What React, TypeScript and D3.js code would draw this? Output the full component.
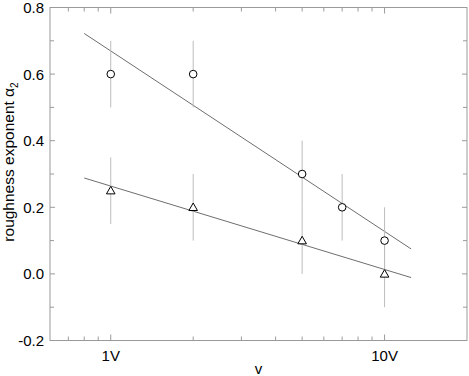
import React from "react";
import * as d3 from "d3";

// values
const circleVolts = [1, 2, 5, 7, 10];
const circleVals = [0.6, 0.6, 0.3, 0.2, 0.1];
const circleErr = [0.1, 0.1, 0.1, 0.1, 0.1];
const triVolts = [1, 2, 5, 10];
const triVals = [0.25, 0.2, 0.1, 0.0];
const triErr = [0.1, 0.1, 0.1, 0.1];
const fitVolts = [0.8, 12.5];
const circleFit = [0.722, 0.075];
const triFit = [0.288, -0.011];
const xMajor = [1, 10];
const xMinor = [0.7, 0.8, 0.9, 2, 3, 4, 5, 6, 7, 8, 9];
const yMajor = [-0.2, 0, 0.2, 0.4, 0.6, 0.8];
const yMinor = [-0.1, 0.1, 0.3, 0.5, 0.7];

const width = 469;
const height = 376;
const margin = { top: 7.5, right: 2, bottom: 35.5, left: 50 };
const font = "'Liberation Sans', Arial, sans-serif";
const axisColor = "#9a9a9a";

const App = () => {
  const x = d3
    .scaleLog()
    .domain([0.6, 20])
    .range([margin.left, width - margin.right]);
  const y = d3
    .scaleLinear()
    .domain([-0.2, 0.8])
    .range([height - margin.bottom, margin.top]);
  const left = x.range()[0];
  const right = x.range()[1];
  const top = y.range()[1];
  const bottom = y.range()[0];

  const line = d3
    .line<number>()
    .x((d, i) => x(fitVolts[i]))
    .y((d) => y(d));

  const tri = (cx: number, cy: number) => {
    const s = 4.3;
    return `M${cx},${cy - s}L${cx + s},${cy + s * 0.75}L${cx - s},${cy + s * 0.75}Z`;
  };

  // plain hyphen for negatives, like the original
  const fmt = (v: number) => d3.format(".1f")(v).replace("\u2212", "-");

  const errBars = (vs: number[], vals: number[], errs: number[], key: string) =>
    vs.map((v, i) => (
      <line
        key={key + i}
        x1={x(v)}
        x2={x(v)}
        y1={y(vals[i] + errs[i])}
        y2={y(vals[i] - errs[i])}
        stroke="#bdbdbd"
        strokeWidth={1}
      />
    ));

  return (
    <svg
      width={width}
      height={height}
      style={{ position: "absolute", left: 0, top: 0, background: "#fff" }}
    >
      {/* frame */}
      <rect
        x={left}
        y={top}
        width={right - left}
        height={bottom - top}
        fill="none"
        stroke={axisColor}
        strokeWidth={1}
      />
      {/* ticks, inward on all four sides */}
      {xMajor.concat(xMinor).map((v, i) => {
        const len = xMajor.includes(v) ? 6 : 4;
        return (
          <g key={"xt" + i} stroke={axisColor}>
            <line x1={x(v)} x2={x(v)} y1={bottom} y2={bottom - len} />
            <line x1={x(v)} x2={x(v)} y1={top} y2={top + len} />
          </g>
        );
      })}
      {yMajor.concat(yMinor).map((v, i) => {
        const len = yMajor.includes(v) ? 5 : 4;
        return (
          <g key={"yt" + i} stroke={axisColor}>
            <line x1={left} x2={left + len} y1={y(v)} y2={y(v)} />
            <line x1={right} x2={right - len} y1={y(v)} y2={y(v)} />
          </g>
        );
      })}
      {/* tick labels */}
      {yMajor.map((v) => (
        <text
          key={"yl" + v}
          x={left - 6}
          y={y(v)}
          dy="0.36em"
          textAnchor="end"
          fontFamily={font}
          fontSize={15}
          fill="#000"
        >
          {fmt(v)}
        </text>
      ))}
      {xMajor.map((v) => (
        <text
          key={"xl" + v}
          x={x(v)}
          y={bottom + 20}
          textAnchor="middle"
          fontFamily={font}
          fontSize={15}
          fill="#000"
        >
          {v + "V"}
        </text>
      ))}
      {/* axis titles */}
      <text
        x={(left + right) / 2}
        y={height - 2}
        textAnchor="middle"
        fontFamily={font}
        fontSize={15}
      >
        v
      </text>
      <text
        transform={`translate(14,162) rotate(-90)`}
        textAnchor="middle"
        fontFamily={font}
        fontSize={15.5}
      >
        roughness exponent α
        <tspan fontSize={10} dy={4}>
          2
        </tspan>
      </text>
      {/* fit lines */}
      <path d={line(circleFit) || ""} fill="none" stroke="#6e6e6e" strokeWidth={1} />
      <path d={line(triFit) || ""} fill="none" stroke="#6e6e6e" strokeWidth={1} />
      {/* error bars */}
      {errBars(circleVolts, circleVals, circleErr, "ce")}
      {errBars(triVolts, triVals, triErr, "te")}
      {/* markers */}
      {circleVolts.map((v, i) => (
        <circle
          key={"c" + i}
          cx={x(v)}
          cy={y(circleVals[i])}
          r={3.8}
          fill="#fff"
          stroke="#000"
          strokeWidth={1}
        />
      ))}
      {triVolts.map((v, i) => (
        <path
          key={"t" + i}
          d={tri(x(v), y(triVals[i]))}
          fill="#fff"
          stroke="#000"
          strokeWidth={1}
        />
      ))}
    </svg>
  );
};

export default App;
